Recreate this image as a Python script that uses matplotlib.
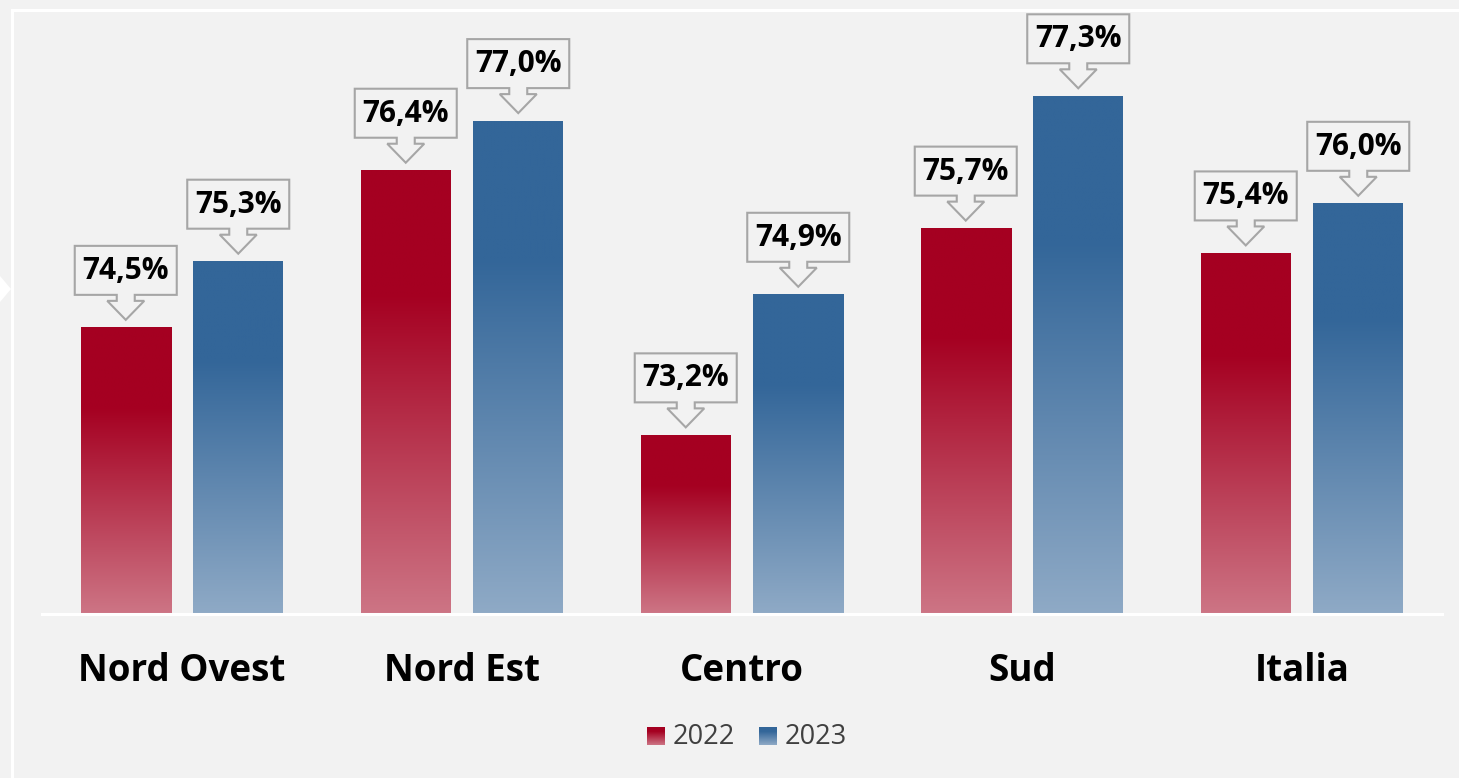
import numpy as np
import matplotlib
matplotlib.use("Agg")
import matplotlib.pyplot as plt
import matplotlib.transforms as mtransforms
from matplotlib.patches import Polygon
from matplotlib.lines import Line2D
from matplotlib.colors import to_rgb

plt.rcParams['font.family'] = ['Open Sans', 'DejaVu Sans']

categories = ["Nord Ovest", "Nord Est", "Centro", "Sud", "Italia"]
series_names = ["2022", "2023"]
values_2022 = [74.5, 76.4, 73.2, 75.7, 75.4]
values_2023 = [75.3, 77.0, 74.9, 77.3, 76.0]
labels_2022 = ["74,5%", "76,4%", "73,2%", "75,7%", "75,4%"]
labels_2023 = ["75,3%", "77,0%", "74,9%", "77,3%", "76,0%"]

BG = "#f2f2f2"
RED_TOP, RED_BOT = "#a50021", "#cd7585"
BLUE_TOP, BLUE_BOT = "#336699", "#8faac6"

W, H, DPI = 1459, 778, 100
fig = plt.figure(figsize=(W / DPI, H / DPI), dpi=DPI, facecolor=BG)

def fx(px):
    return px / W

def fy(py):
    return 1 - py / H

# axes: x 42..1442 px, y baseline 614 .. top 10 px
ax_left, ax_right, ax_bot, ax_top = 42, 1442, 614, 10
ax = fig.add_axes([fx(ax_left), fy(ax_bot), (ax_right - ax_left) / W, (ax_bot - ax_top) / H])
ax.set_facecolor("none")
ymin = 71.04
px_per_unit = 82.7
ymax = ymin + (ax_bot - ax_top) / px_per_unit
for s in ax.spines.values():
    s.set_visible(False)
ax.set_xticks([])
ax.set_yticks([])

x = np.arange(len(categories))
bw = 90 / 280
off = 56.25 / 280


def gradient(top, bot, n=256, stop=0.28):
    t = np.linspace(0, 1, n)
    f = np.clip((t - stop) / (1 - stop), 0, 1)
    c0, c1 = np.array(to_rgb(top)), np.array(to_rgb(bot))
    arr = c0[None, :] * (1 - f[:, None]) + c1[None, :] * f[:, None]
    return arr[:, None, :]

grad_red = gradient(RED_TOP, RED_BOT)
grad_blue = gradient(BLUE_TOP, BLUE_BOT)

bars_a = ax.bar(x - off, np.array(values_2022) - ymin, bw, bottom=ymin, color="none")
bars_b = ax.bar(x + off, np.array(values_2023) - ymin, bw, bottom=ymin, color="none")

for bars, grad in ((bars_a, grad_red), (bars_b, grad_blue)):
    for b in bars:
        x0 = b.get_x()
        ax.imshow(grad, extent=(x0, x0 + b.get_width(), b.get_y(), b.get_y() + b.get_height()),
                  origin="upper", aspect="auto", interpolation="bilinear", zorder=2)

ax.set_xlim(-0.5, len(categories) - 0.5)
ax.set_ylim(ymin, ymax)

# baseline
ax.axhline(ymin, color="white", lw=2.2, zorder=3, clip_on=False)

# callouts (pixel geometry relative to bar top centre)
shape = [(-51, 82), (51, 82), (51, 33), (9, 33), (9, 27), (18.5, 27), (0, 8),
         (-18.5, 27), (-9, 27), (-9, 33), (-51, 33)]

def callout(xc, v, text):
    tr = mtransforms.Affine2D().scale(1 / DPI) + fig.dpi_scale_trans + \
        mtransforms.ScaledTranslation(xc, v, ax.transData)
    poly = Polygon(shape, closed=True, transform=tr, facecolor=BG, edgecolor="#a6a6a6",
                   lw=1.5, zorder=4, clip_on=False)
    ax.add_patch(poly)
    ax.text(0, 57, text, transform=tr, ha="center", va="center", fontsize=21.5,
            fontweight="bold", color="black", zorder=5, clip_on=False)

for i in range(len(categories)):
    callout(x[i] - off, values_2022[i], labels_2022[i])
    callout(x[i] + off, values_2023[i], labels_2023[i])

# category labels
lab_tr = mtransforms.blended_transform_factory(ax.transData, fig.transFigure)
for i, c in enumerate(categories):
    ax.text(x[i], fy(681), c, transform=lab_tr, ha="center", va="baseline",
            fontsize=26.5, fontweight="bold", color="black")

# legend
for (sx, name, grad) in ((647, series_names[0], grad_red), (759, series_names[1], grad_blue)):
    la = fig.add_axes([fx(sx), fy(745), 18 / W, 18 / H])
    la.imshow(grad, aspect="auto", extent=(0, 1, 0, 1), origin="upper")
    la.axis("off")
    fig.text(fx(sx + 26), fy(744), name, fontsize=19.5, color="#404040", ha="left", va="baseline")

# frame
fig.add_artist(Line2D([fx(12), fx(12)], [fy(10), fy(778)], color="white", lw=2.2, transform=fig.transFigure))
fig.add_artist(Line2D([fx(12), fx(1459)], [fy(10), fy(10)], color="white", lw=2.2, transform=fig.transFigure))
fig.add_artist(Polygon([(fx(0), fy(276)), (fx(11), fy(289)), (fx(0), fy(302))], closed=True,
                       facecolor="white", edgecolor="none", transform=fig.transFigure))

fig.savefig("out.png", dpi=DPI, facecolor=BG)
